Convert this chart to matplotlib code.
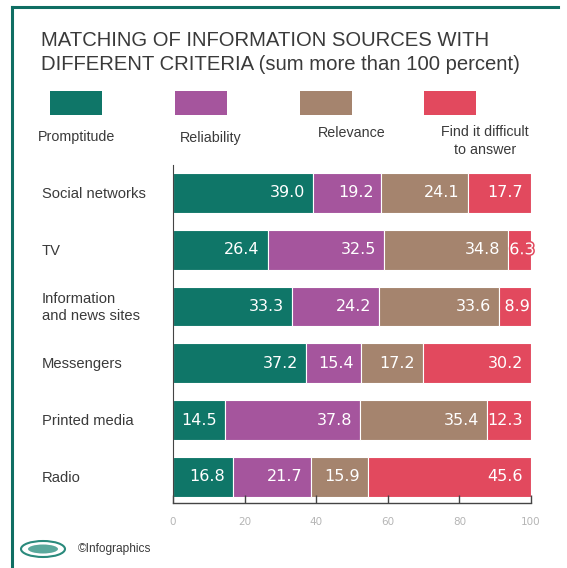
import matplotlib
matplotlib.use("Agg")
import matplotlib.pyplot as plt
import matplotlib.patheffects as pe
from matplotlib.patches import Rectangle, Ellipse
from matplotlib.lines import Line2D

# ---------------------------------------------------------------------------
# Data
# ---------------------------------------------------------------------------
sources = ["Social networks", "TV", "Information\nand news sites",
           "Messengers", "Printed media", "Radio"]
criteria = ["Promptitude", "Reliability", "Relevance",
            "Find it difficult\nto answer"]

promptitude = [39.0, 26.4, 33.3, 37.2, 14.5, 16.8]
reliability = [19.2, 32.5, 24.2, 15.4, 37.8, 21.7]
relevance = [24.1, 34.8, 33.6, 17.2, 35.4, 15.9]
difficult = [17.7, 6.3, 8.9, 30.2, 12.3, 45.6]

x_ticks = [0, 20, 40, 60, 80, 100]

colors = ["#0f7668", "#a5559d", "#a5846e", "#e2495e"]
text_dark = "#3a3a3a"

W, H = 567, 568


def fx(px):
    return px / W


def fy(py):
    return 1 - py / H


# ---------------------------------------------------------------------------
# Figure
# ---------------------------------------------------------------------------
fig = plt.figure(figsize=(5.67, 5.68), dpi=100)
fig.patch.set_facecolor("white")

# teal frame along the top and left edges
fig.add_artist(Line2D([fx(12), fx(12)], [0, fy(7)],
                      transform=fig.transFigure, color="#0f6e63", lw=2.2))
fig.add_artist(Line2D([fx(12), fx(558)], [fy(7), fy(7)],
                      transform=fig.transFigure, color="#0f6e63", lw=2.2))

fig.text(fx(41), fy(31),
         "MATCHING OF INFORMATION SOURCES WITH\n"
         "DIFFERENT CRITERIA (sum more than 100 percent)",
         ha="left", va="top", fontsize=14.6, color=text_dark,
         family="Liberation Sans", linespacing=1.3)

# legend: swatches with captions underneath
swatch_x = [50, 175, 300, 424]
caption_xy = [(77, 137), (211, 138), (352, 133), (485, 141)]
for sx, (cx, cy), c, lab in zip(swatch_x, caption_xy, colors, criteria):
    fig.add_artist(Rectangle((fx(sx), fy(115)), 52 / W, 24 / H,
                             transform=fig.transFigure, color=c, lw=0))
    fig.text(fx(cx), fy(cy), lab, ha="center", va="center",
             fontsize=10.3, color=text_dark, family="Liberation Sans",
             linespacing=1.3)

# ---------------------------------------------------------------------------
# Stacked bars
# ---------------------------------------------------------------------------
ax = fig.add_axes([fx(173), fy(503), 358 / W, 338.4 / H])
series = [promptitude, reliability, relevance, difficult]
ypos = list(range(len(sources)))
left = [0.0] * len(sources)
for vals, c in zip(series, colors):
    ax.barh(ypos, vals, left=left, height=0.70, color=c,
            edgecolor="white", linewidth=0.8)
    for y, l, v in zip(ypos, left, vals):
        if v < 10:
            # narrow segment: centre the value and outline it
            ax.text(l + v / 2 + 0.6, y, f"{v:.1f}", ha="center", va="center",
                    color="white", fontsize=11.5,
                    path_effects=[pe.withStroke(linewidth=2.2, foreground=c)])
        else:
            ax.text(l + v - 2.2, y, f"{v:.1f}", ha="right", va="center",
                    color="white", fontsize=11.5)
    left = [a + b for a, b in zip(left, vals)]

ax.set_xlim(0, 100)
ax.set_ylim(5.46, -0.5)
ax.set_yticks(ypos)
ax.set_yticklabels([])
for y, name in zip(ypos, sources):
    fig.text(fx(42), fy(194 + y * 56.8), name, ha="left", va="center",
             fontsize=10.6, color=text_dark, family="Liberation Sans",
             linespacing=1.25)

ax.set_xticks(x_ticks)
ax.set_xticklabels([str(t) for t in x_ticks])
ax.tick_params(axis="x", direction="in", length=6, width=1, color="#444444",
               labelsize=7.5, labelcolor="#b5b5b5", pad=10)
ax.tick_params(axis="y", length=0)
for side in ["top", "right"]:
    ax.spines[side].set_visible(False)
ax.spines["left"].set_color("#444444")
ax.spines["left"].set_linewidth(0.8)
ax.spines["bottom"].set_color("#444444")
ax.spines["bottom"].set_linewidth(1.0)
ax.set_facecolor("none")

# ---------------------------------------------------------------------------
# Footer
# ---------------------------------------------------------------------------
fig.add_artist(Ellipse((fx(43), fy(549)), 44 / W, 16 / H,
                       transform=fig.transFigure, facecolor="white",
                       edgecolor="#2a8a7c", lw=1.5))
fig.add_artist(Ellipse((fx(43), fy(549)), 30 / W, 9 / H,
                       transform=fig.transFigure, facecolor="#5aa89c",
                       edgecolor="none"))
fig.text(fx(78), fy(549), "©Infographics", ha="left", va="center",
         fontsize=8.6, color=text_dark, family="Liberation Sans")

fig.savefig("out.png", dpi=100)
